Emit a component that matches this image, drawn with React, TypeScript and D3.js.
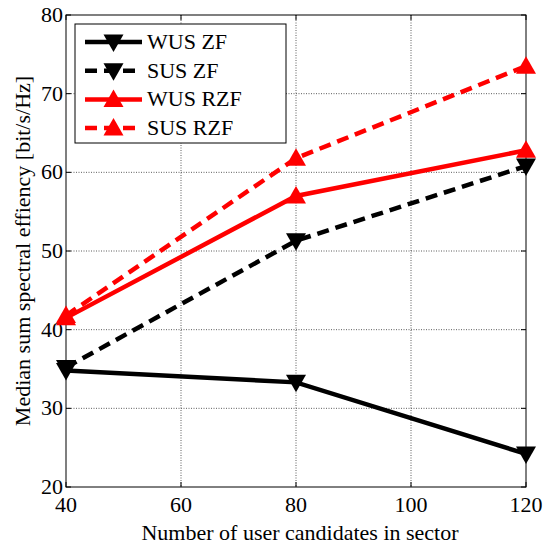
import React, { useEffect, useRef } from 'react'
import * as d3 from 'd3'

const xValues = [40, 80, 120]
const wusZf = [34.8, 33.3, 24.2]
const susZf = [35.2, 51.3, 60.8]
const wusRzf = [41.5, 57.0, 62.8]
const susRzf = [41.8, 61.8, 73.5]
const xTicks = [40, 60, 80, 100, 120]
const yTicks = [20, 30, 40, 50, 60, 70, 80]

const series = [
  { name: 'WUS ZF', values: wusZf, color: '#000', dashed: false, up: false },
  { name: 'SUS ZF', values: susZf, color: '#000', dashed: true, up: false },
  { name: 'WUS RZF', values: wusRzf, color: '#ff0000', dashed: false, up: true },
  { name: 'SUS RZF', values: susRzf, color: '#ff0000', dashed: true, up: true },
]

const App = () => {
  const ref = useRef(null)

  useEffect(() => {
    const svg = d3.select(ref.current)
    svg.selectAll('*').remove()
    const left = 66, right = 526, top = 15, bottom = 487
    const font = 'Liberation Serif, Times New Roman, serif'
    const fs = 22

    const x = d3.scaleLinear().domain([40, 120]).range([left, right])
    const y = d3.scaleLinear().domain([20, 80]).range([bottom, top])

    // grid
    const grid = svg.append('g').attr('stroke', '#333').attr('stroke-width', 0.8).attr('stroke-dasharray', '1,1.5')
    xTicks.slice(1, -1).forEach(t => {
      grid.append('line').attr('x1', x(t)).attr('x2', x(t)).attr('y1', top).attr('y2', bottom)
    })
    yTicks.slice(1, -1).forEach(t => {
      grid.append('line').attr('x1', left).attr('x2', right).attr('y1', y(t)).attr('y2', y(t))
    })

    // box
    svg.append('rect').attr('x', left).attr('y', top).attr('width', right - left).attr('height', bottom - top)
      .attr('fill', 'none').attr('stroke', '#000').attr('stroke-width', 1)

    // ticks inward
    const tk = svg.append('g').attr('stroke', '#000').attr('stroke-width', 1)
    xTicks.forEach(t => {
      tk.append('line').attr('x1', x(t)).attr('x2', x(t)).attr('y1', bottom).attr('y2', bottom - 5)
      tk.append('line').attr('x1', x(t)).attr('x2', x(t)).attr('y1', top).attr('y2', top + 5)
    })
    yTicks.forEach(t => {
      tk.append('line').attr('x1', left).attr('x2', left + 5).attr('y1', y(t)).attr('y2', y(t))
      tk.append('line').attr('x1', right).attr('x2', right - 5).attr('y1', y(t)).attr('y2', y(t))
    })

    svg.append('g').selectAll('text').data(xTicks).enter().append('text')
      .attr('x', d => x(d)).attr('y', bottom + 25).attr('text-anchor', 'middle')
      .attr('font-family', font).attr('font-size', fs).text(d => d)
    svg.append('g').selectAll('text').data(yTicks).enter().append('text')
      .attr('x', left - 3).attr('y', d => y(d) + 7).attr('text-anchor', 'end')
      .attr('font-family', font).attr('font-size', fs).text(d => d)

    svg.append('text').attr('x', (left + right) / 2 + 4).attr('y', 540).attr('text-anchor', 'middle')
      .attr('font-family', font).attr('font-size', fs).text('Number of user candidates in sector')
    svg.append('text').attr('transform', `translate(30,${(top + bottom) / 2}) rotate(-90)`)
      .attr('text-anchor', 'middle').attr('font-family', font).attr('font-size', fs)
      .text('Median sum spectral effiency [bit/s/Hz]')

    const tri = (cx, cy, up, s = 10) => up
      ? `M${cx},${cy - s} L${cx + s},${cy + s * 0.75} L${cx - s},${cy + s * 0.75} Z`
      : `M${cx},${cy + s} L${cx + s},${cy - s * 0.75} L${cx - s},${cy - s * 0.75} Z`

    const line = d3.line().x((d, i) => x(xValues[i])).y(d => y(d))
    series.forEach(s => {
      svg.append('path').attr('d', line(s.values)).attr('fill', 'none')
        .attr('stroke', s.color).attr('stroke-width', 4.5)
        .attr('stroke-dasharray', s.dashed ? '12,7' : null)
      s.values.forEach((v, i) => {
        svg.append('path').attr('d', tri(x(xValues[i]), y(v), s.up)).attr('fill', s.color)
      })
    })

    // legend
    const lg = svg.append('g')
    lg.append('rect').attr('x', 75).attr('y', 24).attr('width', 211).attr('height', 119)
      .attr('fill', '#fff').attr('stroke', '#000').attr('stroke-width', 1)
    series.forEach((s, i) => {
      const ly = 42 + i * 28.7
      lg.append('line').attr('x1', 85).attr('x2', 142).attr('y1', ly).attr('y2', ly)
        .attr('stroke', s.color).attr('stroke-width', 4.5)
        .attr('stroke-dasharray', s.dashed ? '12,7' : null)
      lg.append('path').attr('d', tri(113.5, ly, s.up)).attr('fill', s.color)
      lg.append('text').attr('x', 147).attr('y', ly + 7).attr('font-family', font).attr('font-size', fs).text(s.name)
    })
  }, [])

  return (
    <svg ref={ref} width={543} height={545} style={{ position: 'absolute', left: 0, top: 0, background: '#fff' }} />
  )
}

export default App
